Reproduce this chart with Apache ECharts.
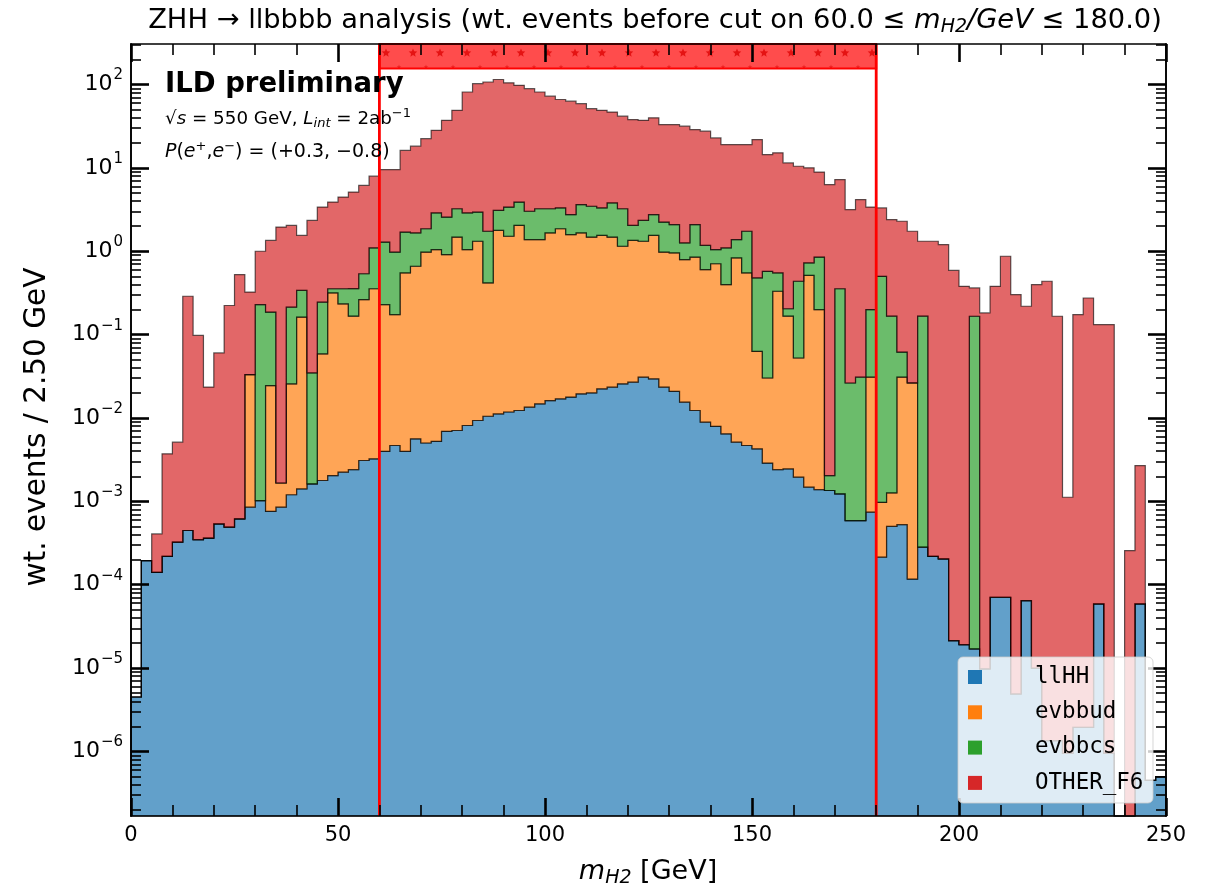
<!DOCTYPE html>
<html>
<head>
<meta charset="utf-8">
<script src="https://cdn.jsdelivr.net/npm/echarts@6/dist/echarts.min.js"></script>
<style>
  html, body { margin: 0; padding: 0; background: #ffffff; }
  #chart { width: 1216px; height: 887px; }
</style>
</head>
<body>
<div id="chart"></div>
<script>
// Histogram binning: 100 bins of 2.5 GeV from 0 to 250 GeV
const binWidth = 2.5;
const seriesNames = ['llHH', 'evbbud', 'evbbcs', 'OTHER_F6'];

// weighted events per bin, one array per process (stacked in this order)
const llHH = [
  4.5e-6, 1.95e-4, 1.41e-4, 2.19e-4, 3.24e-4, 4.47e-4, 3.47e-4, 3.63e-4, 5.37e-4, 4.90e-4,
  6.17e-4, 8.51e-4, 1.02e-3, 7.59e-4, 8.51e-4, 1.20e-3, 1.41e-3, 1.62e-3, 1.78e-3, 2.04e-3,
  2.24e-3, 2.40e-3, 3.09e-3, 3.24e-3, 3.98e-3, 4.68e-3, 3.98e-3, 5.62e-3, 5.01e-3, 5.25e-3,
  6.92e-3, 7.08e-3, 8.13e-3, 9.33e-3, 0.0105, 0.0112, 0.0118, 0.0123, 0.0135, 0.0148,
  0.0162, 0.0170, 0.0178, 0.0195, 0.0200, 0.0224, 0.0234, 0.0257, 0.0269, 0.0309,
  0.0295, 0.0234, 0.0209, 0.0155, 0.0123, 8.91e-3, 7.94e-3, 6.46e-3, 5.13e-3, 4.68e-3,
  4.27e-3, 2.88e-3, 2.40e-3, 2.45e-3, 1.95e-3, 1.48e-3, 1.38e-3, 1.35e-3, 1.23e-3, 5.89e-4,
  5.89e-4, 7.41e-4, 2.14e-4, 5.01e-4, 5.25e-4, 1.17e-4, 2.82e-4, 2.19e-4, 2.04e-4, 2.14e-5,
  1.91e-5, 1.70e-5, 9.8e-6, 7.08e-5, 7.08e-5, 4.9e-6, 6.46e-5, 1.0e-5, 1.35e-6, 1.35e-6,
  9.5e-7, 1.95e-6, 1.95e-6, 5.89e-5, 9.5e-7, 0, 0, 5.89e-5, 4.5e-7, 5.0e-7
];
const evbbud = [
  0, 0, 0, 0, 0, 0, 0, 0, 0, 0,
  0, 0.0323, 0, 0.0237, 8.1e-4, 0.0245, 0.161, 0, 0.0571, 0.314,
  0.232, 0.164, 0.260, 0.352, 0.225, 0.169, 0.546, 0.655, 0.972, 1.042,
  0.905, 1.472, 1.039, 1.309, 0.406, 1.767, 1.502, 2.030, 1.367, 1.365,
  1.644, 1.845, 1.567, 1.640, 1.459, 1.527, 1.456, 1.122, 1.322, 1.287,
  1.519, 0.954, 0.934, 0.779, 0.839, 0.594, 0.700, 0.392, 0.827, 0.545,
  0.0588, 0.0273, 0.329, 0.164, 0.0505, 0.512, 0.198, 0, 0, 0,
  0, 0.0302, 7.6e-4, 7.6e-4, 0.0304, 0.0262, 0, 0, 0, 0,
  0, 0, 0, 0, 0, 0, 0, 0, 0, 0,
  0, 0, 0, 0, 0, 0, 0, 0, 0, 0
];
const evbbcs = [
  0, 0, 0, 0, 0, 0, 0, 0, 0, 0,
  0, 0, 0.228, 0.162, 0, 0.188, 0.177, 0.0331, 0.186, 0.039,
  0.121, 0.189, 0.274, 0.741, 1.059, 0.803, 1.148, 0.999, 0.885, 1.837,
  1.658, 1.757, 1.837, 1.633, 1.321, 1.312, 1.874, 1.848, 1.640, 1.856,
  1.576, 1.449, 1.169, 1.971, 1.988, 1.762, 2.323, 2.088, 0.693, 1.026,
  1.205, 1.262, 1.134, 0.465, 1.238, 0.572, 0.339, 0.698, 0.548, 1.188,
  0.416, 0.545, 0.219, 0.038, 0.384, 0.211, 0.651, 6.9e-4, 0.354, 0.0257,
  0.0303, 0.169, 0.500, 0.165, 0.0308, 0, 0.166, 0, 0, 0,
  0, 0.166, 0, 0, 0, 0, 0, 0, 0, 0,
  0, 0, 0, 0, 0, 0, 0, 0, 0, 0
];
const OTHER_F6 = [
  0, 0, 2.66e-4, 3.50e-3, 4.81e-3, 0.288, 0.0974, 0.0231, 0.0598, 0.223,
  0.524, 0.291, 0.771, 1.163, 1.948, 1.83, 1.21, 2.309, 3.143, 3.535,
  4.112, 4.774, 5.629, 6.847, 8.26, 8.57, 14.52, 16.54, 20.53, 25.30,
  34.58, 45.74, 78.40, 99.35, 105.4, 111.7, 101.3, 93.83, 86.11, 78.04,
  69.20, 62.76, 60.35, 55.25, 47.82, 45.67, 42.97, 38.45, 35.98, 34.81,
  37.06, 30.87, 31.02, 30.36, 26.75, 26.37, 21.86, 17.95, 17.67, 17.31,
  21.40, 13.88, 14.59, 11.28, 10.03, 9.28, 8.062, 6.308, 6.889, 3.136,
  4.138, 3.188, 2.810, 2.233, 2.229, 1.712, 1.152, 1.318, 1.202, 0.589,
  0.380, 0.197, 0.182, 0.380, 0.871, 0.302, 0.219, 0.398, 0.437, 0.166,
  1.12e-3, 0.174, 0.275, 0.132, 0.132, 0, 2.57e-4, 2.63e-3, 0, 0
];

// axis ticks
const yTickExponents = [-6, -5, -4, -3, -2, -1, 0, 1, 2];
const xTickStep = 50;
const cutLow = 60.0, cutHigh = 180.0;

// y axis works in log10 units
const Y_MIN = -6.774, Y_MAX = 2.486;
const X_MIN = 0, X_MAX = 250;

const fills = ['rgba(31,119,180,0.7)', 'rgba(255,127,14,0.7)', 'rgba(44,160,44,0.7)', 'rgba(214,39,40,0.7)'];
const solids = ['#1f77b4', '#ff7f0e', '#2ca02c', '#d62728'];
const FONT = 'DejaVu Sans';

const layers = [llHH, evbbud, evbbcs, OTHER_F6];
const nBins = llHH.length;
const cumulative = [];
let running = new Array(nBins).fill(0);
layers.forEach(arr => {
  running = running.map((v, i) => v + arr[i]);
  cumulative.push(running.slice());
});
const toLog = v => (v > 0 ? Math.min(Y_MAX, Math.max(Y_MIN, Math.log10(v))) : Y_MIN);

const minorVals = [];
for (let n = -7; n <= 2; n++) {
  for (let k = 2; k <= 9; k++) {
    const v = n + Math.log10(k);
    if (v > Y_MIN && v < Y_MAX) minorVals.push(v);
  }
}

// stepped, stacked polygon for one process
function layerRenderer(k) {
  return function (params, api) {
    const top = cumulative[k].map(toLog);
    const bot = k === 0 ? top.map(() => Y_MIN) : cumulative[k - 1].map(toLog);
    const pts = [];
    for (let i = 0; i < nBins; i++) {
      pts.push(api.coord([i * binWidth, top[i]]));
      pts.push(api.coord([(i + 1) * binWidth, top[i]]));
    }
    for (let i = nBins - 1; i >= 0; i--) {
      pts.push(api.coord([(i + 1) * binWidth, bot[i]]));
      pts.push(api.coord([i * binWidth, bot[i]]));
    }
    return {
      type: 'polygon',
      shape: { points: pts },
      style: { fill: fills[k], stroke: 'rgba(0,0,0,0.62)', lineWidth: 1.2, lineJoin: 'miter' }
    };
  };
}

// star hatch tile for the accepted-window band
const tile = document.createElement('canvas');
tile.width = 27; tile.height = 24;
(function () {
  const c = tile.getContext('2d');
  function star(cx, cy, r) {
    c.beginPath();
    for (let j = 0; j < 10; j++) {
      const rr = j % 2 === 0 ? r : r * 0.45;
      const a = -Math.PI / 2 + j * Math.PI / 5;
      c.lineTo(cx + rr * Math.cos(a), cy + rr * Math.sin(a));
    }
    c.closePath();
    c.fill();
  }
  c.fillStyle = 'rgba(220,0,0,0.75)';
  star(8, 5, 4.5);
  c.fillStyle = 'rgba(220,0,0,0.55)';
  star(21, 19, 2.4);
})();

const series = layers.map((arr, k) => ({
  name: seriesNames[k],
  type: 'custom',
  coordinateSystem: 'cartesian2d',
  z: 2 + k * 0.01,
  silent: true,
  data: [[0, 0]],
  renderItem: layerRenderer(k)
}));

// cut window: band at the top plus two vertical lines
series.push({
  name: 'cut',
  type: 'custom',
  coordinateSystem: 'cartesian2d',
  z: 5,
  silent: true,
  data: [[cutLow, cutHigh]],
  renderItem: function (params, api) {
    const a = api.coord([cutLow, Y_MAX]);
    const b = api.coord([cutHigh, Y_MAX]);
    const aB = api.coord([cutLow, Y_MIN]);
    const bB = api.coord([cutHigh, Y_MIN]);
    const h = 24.5;
    return {
      type: 'group',
      children: [
        { type: 'rect', shape: { x: a[0], y: a[1], width: b[0] - a[0], height: h }, style: { fill: 'rgba(255,0,0,0.7)' } },
        { type: 'rect', shape: { x: a[0], y: a[1], width: b[0] - a[0], height: h }, style: { fill: { image: tile, repeat: 'repeat' } } },
        { type: 'rect', shape: { x: a[0], y: a[1], width: b[0] - a[0], height: h }, style: { fill: 'none', stroke: '#ff0000', lineWidth: 2 } },
        { type: 'line', shape: { x1: a[0], y1: a[1], x2: aB[0], y2: aB[1] }, style: { stroke: '#ff0000', lineWidth: 2.8 } },
        { type: 'line', shape: { x1: b[0], y1: b[1], x2: bB[0], y2: bB[1] }, style: { stroke: '#ff0000', lineWidth: 2.8 } }
      ]
    };
  }
});

function supExp(n) {
  return n < 0 ? '\u2212' + (-n) : String(n);
}

const axisLineStyle = { show: true, onZero: false, lineStyle: { color: '#000', width: 1.6 } };

function yAxisDef(position, major, showLabels) {
  return {
    type: 'value', min: Y_MIN, max: Y_MAX, position: position, z: 10,
    axisLine: axisLineStyle,
    axisTick: {
      show: true, inside: true, length: major ? 18 : 10,
      lineStyle: { color: '#000', width: major ? 2.6 : 1.6 },
      customValues: major ? yTickExponents : minorVals
    },
    axisLabel: showLabels ? {
      show: true,
      customValues: yTickExponents,
      margin: 8,
      formatter: v => '{b|10}{s|' + supExp(Math.round(v)) + '}',
      rich: {
        b: { fontFamily: FONT, fontSize: 22, color: '#000' },
        s: { fontFamily: FONT, fontSize: 15, color: '#000', padding: [0, 0, 18, 1] }
      }
    } : { show: false },
    splitLine: { show: false }
  };
}

function xAxisDef(position, showLabels) {
  return {
    type: 'value', min: X_MIN, max: X_MAX, interval: xTickStep, position: position, z: 10,
    axisLine: axisLineStyle,
    axisTick: { show: true, inside: true, length: 18, lineStyle: { color: '#000', width: 2.6 } },
    minorTick: { show: true, splitNumber: 5, length: 11, lineStyle: { color: '#000', width: 1.6 } },
    axisLabel: showLabels ? { show: true, fontFamily: FONT, fontSize: 21, color: '#000', margin: 9 } : { show: false },
    splitLine: { show: false },
    minorSplitLine: { show: false }
  };
}

const LEGEND_Z = 100;
const legendChildren = [
  { type: 'rect', z: LEGEND_Z, shape: { x: 958, y: 657, width: 195, height: 146, r: 5 },
    style: { fill: 'rgba(255,255,255,0.8)', stroke: 'rgba(204,204,204,0.8)', lineWidth: 1 } }
];
seriesNames.forEach((name, k) => {
  const cy = 677 + k * 35.3;
  legendChildren.push({ type: 'rect', z: LEGEND_Z + 1, shape: { x: 968, y: cy - 7, width: 14, height: 14 }, style: { fill: solids[k] } });
  legendChildren.push({ type: 'text', z: LEGEND_Z + 1, x: 1035, y: cy, style: { text: name, fontFamily: 'DejaVu Sans Mono', fontSize: 22.5, fill: '#000', verticalAlign: 'middle', align: 'left' } });
});

const option = {
  backgroundColor: '#ffffff',
  animation: false,
  grid: { left: 131, right: 50, top: 44, bottom: 71, containLabel: false },
  xAxis: [xAxisDef('bottom', true), xAxisDef('top', false)],
  yAxis: [yAxisDef('left', true, true), yAxisDef('left', false, false), yAxisDef('right', true, false), yAxisDef('right', false, false)],
  series: series,
  graphic: [
    { type: 'text', x: 655, y: 21, z: 20,
      style: {
        text: '{n|ZHH \u2192 llbbbb analysis (wt. events before cut on 60.0 \u2264 }{i|m}{sub|H2}{i|/GeV}{n| \u2264 180.0)}',
        align: 'center', verticalAlign: 'middle',
        rich: {
          n: { fontFamily: FONT, fontSize: 27.3, fill: '#000' },
          i: { fontFamily: FONT, fontSize: 27.3, fontStyle: 'italic', fill: '#000' },
          sub: { fontFamily: FONT, fontSize: 19, fontStyle: 'italic', fill: '#000', padding: [12, 0, 0, 0] }
        }
      } },
    { type: 'text', x: 648, y: 872, z: 20,
      style: {
        text: '{i|m}{sub|H2}{n| [GeV]}',
        align: 'center', verticalAlign: 'middle',
        rich: {
          n: { fontFamily: FONT, fontSize: 27, fill: '#000' },
          i: { fontFamily: FONT, fontSize: 27, fontStyle: 'italic', fill: '#000' },
          sub: { fontFamily: FONT, fontSize: 19, fontStyle: 'italic', fill: '#000', padding: [12, 0, 0, 0] }
        }
      } },
    { type: 'text', x: 37, y: 427, rotation: Math.PI / 2, z: 20,
      style: { text: 'wt. events / 2.50 GeV', fontFamily: FONT, fontSize: 29.5, fill: '#000', align: 'center', verticalAlign: 'middle' } },
    { type: 'text', x: 165, y: 85, z: 20,
      style: { text: 'ILD preliminary', fontFamily: FONT, fontWeight: 'bold', fontSize: 27.5, fill: '#000', align: 'left', verticalAlign: 'middle' } },
    { type: 'text', x: 165, y: 119, z: 20,
      style: {
        text: '{n|\u221a}{i|s}{n| = 550 GeV, }{i|L}{sb|int}{n| = 2ab}{sp|\u22121}',
        align: 'left', verticalAlign: 'middle',
        rich: {
          n: { fontFamily: FONT, fontSize: 18.3, fill: '#000' },
          i: { fontFamily: FONT, fontSize: 18.3, fontStyle: 'italic', fill: '#000' },
          sb: { fontFamily: FONT, fontSize: 13, fontStyle: 'italic', fill: '#000', padding: [9, 0, 0, 0] },
          sp: { fontFamily: FONT, fontSize: 13, fill: '#000', padding: [0, 0, 10, 0] }
        }
      } },
    { type: 'text', x: 165, y: 152, z: 20,
      style: {
        text: '{i|P}{n|(}{i|e}{sp|+}{n|,}{i|e}{sp|\u2212}{n|) = (+0.3, \u22120.8)}',
        align: 'left', verticalAlign: 'middle',
        rich: {
          n: { fontFamily: FONT, fontSize: 19, fill: '#000' },
          i: { fontFamily: FONT, fontSize: 19, fontStyle: 'italic', fill: '#000' },
          sp: { fontFamily: FONT, fontSize: 13, fill: '#000', padding: [0, 0, 10, 0] }
        }
      } },
    { type: 'group', z: LEGEND_Z, children: legendChildren }
  ]
};

const chart = echarts.init(document.getElementById('chart'), null, { renderer: 'canvas' });
chart.setOption(option);
</script>
</body>
</html>
